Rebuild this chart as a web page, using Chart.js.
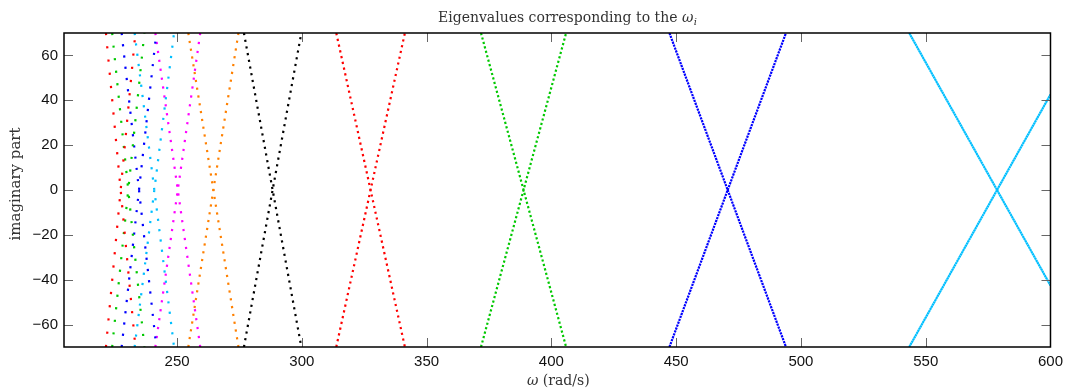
<!DOCTYPE html>
<html>
<head>
<meta charset="utf-8">
<title>Eigenvalues corresponding to the omega_i</title>
<script src="https://cdn.jsdelivr.net/npm/chart.js@4.4.1/dist/chart.umd.min.js"></script>
<style>
    html, body { margin: 0; padding: 0; background: #ffffff; }
    #wrap { width: 1069px; height: 389px; position: relative; }
</style>
</head>
<body>
<div id="wrap"><canvas id="eigChart"></canvas></div>
<script>
// Each mode is an X: two branches that enter at the left omega and leave at the right omega
const omegaLeft  = [221.5, 224.0, 227.8, 233.0, 241.3, 254.5, 276.8, 313.8, 371.8, 447.3, 543.4];
const omegaRight = [233.3, 236.9, 241.7, 248.8, 259.3, 274.6, 299.8, 341.3, 405.9, 494.0, 600.0];
const imagLeft   = [70, 70, 70, 70, 70, 70, 70, 70, 70, 70, 70];
const imagRight  = [70, 70, 70, 70, 70, 70, 70, 70, 70, 70, 42.6];

const xTicks = [250, 300, 350, 400, 450, 500, 550, 600];
const yTicks = [-60, -40, -20, 0, 20, 40, 60];

// Styles (not data)
const modeColors = ['#ff0000', '#00c800', '#0000ff', '#00bfff', '#ff00ff', '#ff8000',
                    '#000000', '#ff0000', '#00c800', '#0000ff', '#00bfff'];
const dotGap = [13.3, 12.6, 11.3, 10.4, 9.0, 7.9, 6.8, 5.9, 4.6, 3.1, 2.2];

const serif = '"DejaVu Serif", "Liberation Serif", serif';
const sans = '"Liberation Sans", Arial, sans-serif';

function buildDatasets() {
    const sets = [];
    omegaLeft.forEach((w0, i) => {
        const makeSet = (y0, y1) => ({
            data: [{ x: w0, y: y0 }, { x: omegaRight[i], y: y1 }],
            showLine: true,
            borderColor: modeColors[i],
            backgroundColor: modeColors[i],
            borderWidth: 2.2,
            borderDash: [2.2, Math.max(dotGap[i] - 2.2, 0.3)],
            borderCapStyle: 'butt',
            pointRadius: 0,
            pointHoverRadius: 0,
            fill: false,
            tension: 0
        });
        sets.push(makeSet(imagLeft[i], -imagRight[i]));
        sets.push(makeSet(-imagLeft[i], imagRight[i]));
    });
    return sets;
}

// Box, inward ticks on all sides and the LaTeX-like labels
const framePlugin = {
    id: 'frame',
    afterDatasetsDraw(chart) {
        const { ctx, chartArea: a } = chart;
        const xs = chart.scales.x;
        const ys = chart.scales.y;
        const tickLen = 9;

        ctx.save();
        ctx.strokeStyle = '#666666';
        ctx.lineWidth = 1;
        ctx.beginPath();
        xTicks.forEach(v => {
            const px = Math.round(xs.getPixelForValue(v)) + 0.5;
            ctx.moveTo(px, a.bottom); ctx.lineTo(px, a.bottom - tickLen);
            ctx.moveTo(px, a.top); ctx.lineTo(px, a.top + tickLen);
        });
        yTicks.forEach(v => {
            const py = Math.round(ys.getPixelForValue(v)) + 0.5;
            ctx.moveTo(a.left, py); ctx.lineTo(a.left + tickLen, py);
            ctx.moveTo(a.right, py); ctx.lineTo(a.right - tickLen, py);
        });
        ctx.stroke();

        ctx.strokeStyle = '#000000';
        ctx.lineWidth = 1.5;
        ctx.strokeRect(a.left, a.top, a.right - a.left, a.bottom - a.top);

        // Title
        ctx.fillStyle = '#333333';
        ctx.textBaseline = 'alphabetic';
        ctx.textAlign = 'left';
        const main = 'Eigenvalues corresponding to the ';
        ctx.font = '14px ' + serif;
        const wMain = ctx.measureText(main).width;
        ctx.font = 'italic 14px ' + serif;
        const wOmega = ctx.measureText('\u03c9').width;
        ctx.font = 'italic 10px ' + serif;
        const wSub = ctx.measureText('i').width;
        const cx = (a.left + a.right) / 2 + 10;
        let tx = cx - (wMain + wOmega + wSub) / 2;
        ctx.font = '14px ' + serif;
        ctx.fillText(main, tx, 22);
        tx += wMain;
        ctx.font = 'italic 14px ' + serif;
        ctx.fillText('\u03c9', tx, 22);
        tx += wOmega + 0.5;
        ctx.font = 'italic 10px ' + serif;
        ctx.fillText('i', tx, 25);

        // x label
        const lab1 = '\u03c9';
        const lab2 = ' (rad/s)';
        ctx.font = 'italic 14px ' + serif;
        const w1 = ctx.measureText(lab1).width;
        ctx.font = '14px ' + serif;
        const w2 = ctx.measureText(lab2).width;
        const lx = (a.left + a.right) / 2 + 1 - (w1 + w2) / 2;
        ctx.font = 'italic 14px ' + serif;
        ctx.fillText(lab1, lx, 385);
        ctx.font = '14px ' + serif;
        ctx.fillText(lab2, lx + w1, 385);

        // y label
        ctx.translate(20, (a.top + a.bottom) / 2 - 6);
        ctx.rotate(-Math.PI / 2);
        ctx.textAlign = 'center';
        ctx.font = '15px ' + serif;
        ctx.fillText('imaginary part', 0, 0);
        ctx.restore();
    }
};

function fmtTick(v) {
    return v < 0 ? '\u2212' + Math.abs(v) : String(v);
}

function initializeChart() {
    const canvas = document.getElementById('eigChart');
    new Chart(canvas, {
        type: 'scatter',
        data: { datasets: buildDatasets() },
        options: {
            responsive: true,
            maintainAspectRatio: false,
            animation: false,
            events: [],
            layout: { padding: { left: 0, right: 13, top: 33, bottom: 0 } },
            plugins: {
                legend: { display: false },
                title: { display: false },
                tooltip: { enabled: false }
            },
            scales: {
                x: {
                    type: 'linear',
                    min: 204.7,
                    max: 600,
                    grid: { display: false, drawTicks: false },
                    border: { display: false },
                    afterBuildTicks: scale => { scale.ticks = xTicks.map(v => ({ value: v })); },
                    afterFit: scale => { scale.height = 42; },
                    ticks: {
                        color: '#111111',
                        padding: 6,
                        maxRotation: 0,
                        autoSkip: false,
                        font: { family: sans, size: 15 },
                        callback: fmtTick
                    }
                },
                y: {
                    type: 'linear',
                    min: -70,
                    max: 70,
                    grid: { display: false, drawTicks: false },
                    border: { display: false },
                    afterBuildTicks: scale => { scale.ticks = yTicks.map(v => ({ value: v })); },
                    afterFit: scale => { scale.width = 64; },
                    ticks: {
                        color: '#111111',
                        padding: 6,
                        autoSkip: false,
                        font: { family: sans, size: 15 },
                        callback: fmtTick
                    }
                }
            }
        },
        plugins: [framePlugin]
    });
}

document.addEventListener('DOMContentLoaded', initializeChart);
</script>
</body>
</html>
